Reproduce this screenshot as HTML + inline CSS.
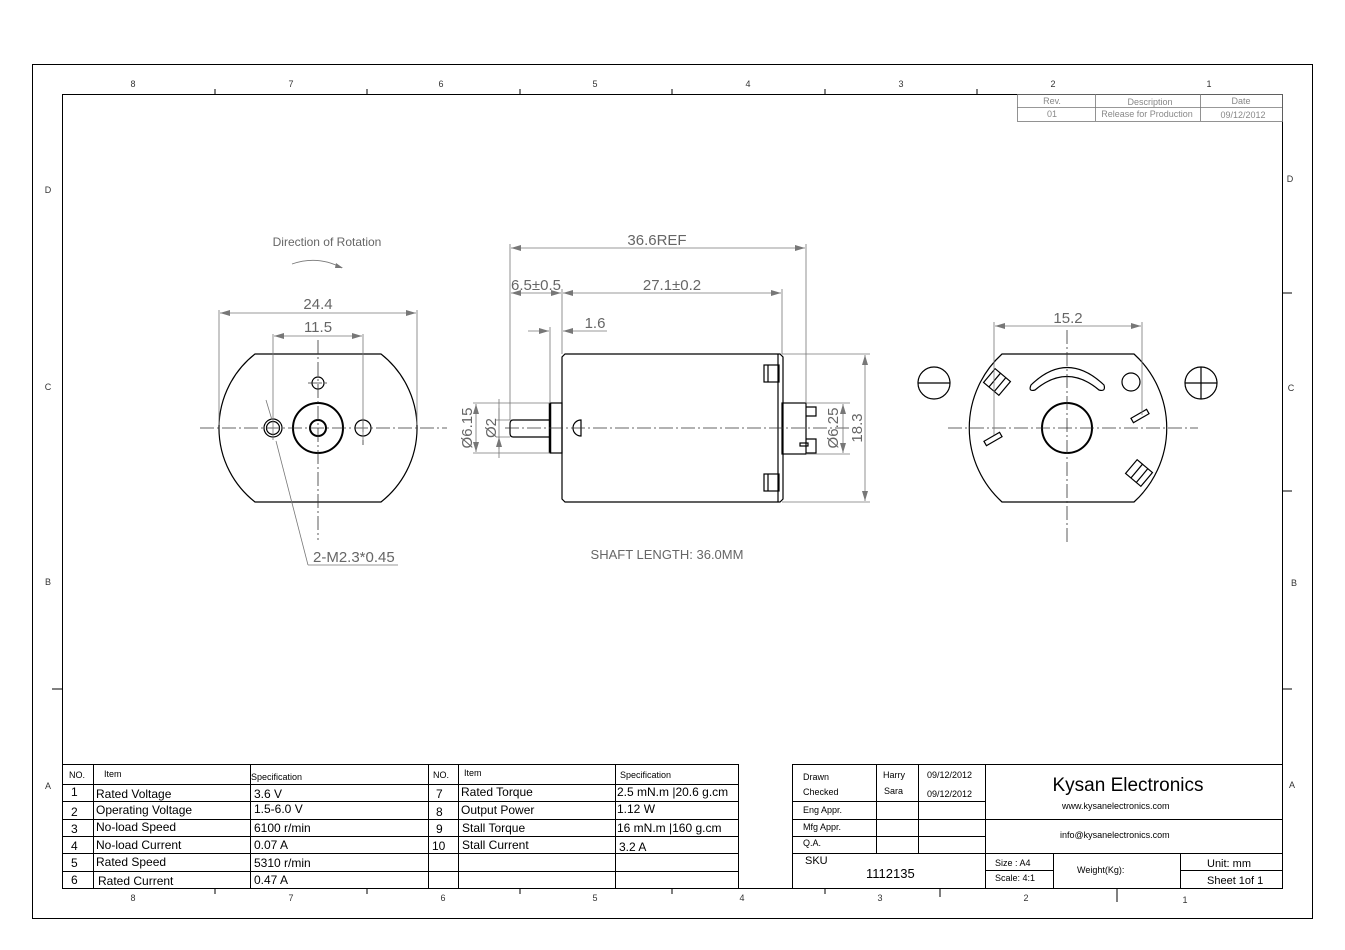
<!DOCTYPE html>
<html><head><meta charset="utf-8"><style>
html,body{margin:0;padding:0;background:#fff}
svg{display:block}
text{font-family:"Liberation Sans",sans-serif}
.o{stroke:#000;stroke-width:1.2;fill:none}
.d{stroke:#777;stroke-width:0.8;fill:none}
.c{stroke:#333;stroke-width:0.8;fill:none;stroke-dasharray:14,3,2,3}
.t{stroke:#000;stroke-width:1;fill:none}
.dt{fill:#666;font-size:15px}
.tb{font-size:12px;fill:#000}
.sm{font-size:9px;fill:#000}
.g{font-size:9px;fill:#888}
.z{font-size:9px;fill:#333}
</style></head><body>
<svg width="1345" height="950" viewBox="0 0 1345 950" xmlns="http://www.w3.org/2000/svg">
<defs>
<marker id="a" markerWidth="10" markerHeight="6" refX="10" refY="3" orient="auto-start-reverse" markerUnits="userSpaceOnUse"><path d="M0,0 L10,3 L0,6 z" fill="#777"/></marker>
</defs>
<rect x="32.5" y="64.5" width="1280" height="854" class="t"/>
<rect x="62.5" y="94.5" width="1220" height="794" class="t"/>
<g class="z" text-anchor="middle">
<text x="133" y="87">8</text><text x="291" y="87">7</text><text x="441" y="87">6</text><text x="595" y="87">5</text><text x="748" y="87">4</text><text x="901" y="87">3</text><text x="1053" y="87">2</text><text x="1209" y="87">1</text>
<text x="133" y="901">8</text><text x="291" y="901">7</text><text x="443" y="901">6</text><text x="595" y="901">5</text><text x="742" y="901">4</text><text x="880" y="901">3</text><text x="1026" y="901">2</text><text x="1185" y="903">1</text>
<text x="48" y="193">D</text><text x="48" y="390">C</text><text x="48" y="585">B</text><text x="48" y="789">A</text>
<text x="1290" y="182">D</text><text x="1291" y="391">C</text><text x="1294" y="586">B</text><text x="1292" y="788">A</text>
</g>
<g class="t">
<path d="M215 89V94M367 89V94M520 89V94M672 89V94M825 89V94M977 89V94"/>
<path d="M215 888V894M367 888V894M520 888V894M672 888V894M825 888V894M940 888V897M1117 888V902"/>
<path d="M52 689H62M1282 293H1292M1282 491H1292M1282 689H1292"/>
</g>
<g class="d" stroke="#999"><rect x="1017.5" y="94.5" width="265" height="27"/><path d="M1017 107.5H1282M1095.5 94V121M1200.5 94V121"/></g>
<g class="g" text-anchor="middle"><text x="1052" y="104">Rev.</text><text x="1150" y="105">Description</text><text x="1241" y="104">Date</text>
<text x="1052" y="117">01</text><text x="1147" y="117">Release for Production</text><text x="1243" y="118">09/12/2012</text></g>

<text x="327" y="246" fill="#666" font-size="12" text-anchor="middle">Direction of Rotation</text>
<path d="M292 264 Q318 255 342 268" class="d"/><path d="M336 263 L343 268 L335 268z" fill="#777"/>
<path d="M255 354H381 A94 94 0 0 1 381 502 H255 A94 94 0 0 1 255 354Z" class="o"/>
<circle cx="318" cy="428" r="25" stroke="#000" stroke-width="2" fill="none"/>
<circle cx="318" cy="428" r="8" stroke="#000" stroke-width="2" fill="none"/>
<circle cx="273" cy="428" r="9" class="o"/><circle cx="273" cy="428" r="6.5" class="o"/>
<circle cx="363" cy="428" r="8" class="o"/>
<circle cx="318" cy="383" r="6" class="o"/>
<path d="M200 428H447M318 340V540M308 383H328M363 418V445" class="c"/>
<path d="M219 310V425M417 310V425M273 334V440M363 334V440" class="d"/>
<path d="M220 313H416" class="d" marker-start="url(#a)" marker-end="url(#a)"/>
<path d="M274 336H362" class="d" marker-start="url(#a)" marker-end="url(#a)"/>
<text x="318" y="309" class="dt" text-anchor="middle">24.4</text>
<text x="318" y="332" class="dt" text-anchor="middle">11.5</text>
<path d="M308 565H398M308 565L276 441" class="d"/><path d="M266 400L272 420" class="d"/>
<text x="313" y="562" class="dt" text-anchor="start">2-M2.3*0.45</text>

<path d="M565 354H780L783 357V499L780 502H565L562 499V357Z" class="o"/>
<path d="M778 354V502" class="o"/>
<rect x="764" y="365" width="15" height="17" class="o"/><path d="M768 365V382" class="o"/>
<rect x="764" y="474" width="15" height="17" class="o"/><path d="M768 474V491" class="o"/>
<rect x="550" y="403" width="12" height="50" class="o"/><path d="M550 403V453" stroke="#000" stroke-width="2.5"/>
<path d="M550 420H513Q510 420 510 424V433Q510 437 513 437H550" class="o"/>
<rect x="782" y="403" width="24" height="51" class="o"/>
<path d="M806 407H816V416H806M806 439H816V453H806" class="o"/><rect x="800" y="443" width="8" height="3" class="o" stroke-width="0.8"/>
<path d="M581 420A8 8 0 0 0 581 436Z" class="o"/>
<path d="M505 428H850" class="c"/>
<path d="M510 244V420M806 244V403M562 289V354M782 289V354M550 327V403" class="d"/>
<path d="M511 248H805" class="d" marker-start="url(#a)" marker-end="url(#a)"/>
<path d="M511 293H561" class="d" marker-start="url(#a)" marker-end="url(#a)"/>
<path d="M563 293H781" class="d" marker-start="url(#a)" marker-end="url(#a)"/>
<path d="M528 331H549" class="d" marker-end="url(#a)"/><path d="M563 331H607" class="d" marker-start="url(#a)"/>
<text x="657" y="245" class="dt" text-anchor="middle">36.6REF</text>
<text x="536" y="290" class="dt" text-anchor="middle">6.5±0.5</text>
<text x="672" y="290" class="dt" text-anchor="middle">27.1±0.2</text>
<text x="595" y="328" class="dt" text-anchor="middle">1.6</text>
<path d="M473 403H550M473 453H550M496 420H510M496 437H510M499 399V458" class="d"/>
<path d="M476 404V452" class="d" marker-start="url(#a)" marker-end="url(#a)"/>
<path d="M499 408V420M499 449V437" class="d" marker-end="url(#a)"/>
<text transform="translate(472,428) rotate(-90)" class="dt" text-anchor="middle">Ø6.15</text>
<text transform="translate(496,428) rotate(-90)" class="dt" text-anchor="middle">Ø2</text>
<path d="M806 403H850M806 454H850M782 354H870M782 502H870" class="d"/>
<path d="M843 404V453" class="d" marker-start="url(#a)" marker-end="url(#a)"/>
<path d="M865 355V501" class="d" marker-start="url(#a)" marker-end="url(#a)"/>
<text transform="translate(838,428) rotate(-90)" class="dt" text-anchor="middle">Ø6.25</text>
<text transform="translate(862,428) rotate(-90)" class="dt" text-anchor="middle">18.3</text>
<text x="667" y="559" font-size="13" fill="#666" text-anchor="middle">SHAFT LENGTH: 36.0MM</text>

<path d="M1002 354H1134 A100 100 0 0 1 1134 502 H1002 A100 100 0 0 1 1002 354Z" class="o"/>
<circle cx="1067" cy="428" r="25" stroke="#000" stroke-width="2" fill="none"/>
<path d="M1031 385 Q1067 350 1104 385 Q1106 392 1099 390 Q1067 363 1035 390 Q1028 392 1031 385Z" class="o"/>
<circle cx="1131" cy="382" r="9" class="o"/>
<circle cx="934" cy="383" r="16" class="o"/><path d="M918 383H950" class="o"/>
<circle cx="1201" cy="383" r="16" class="o"/><path d="M1185 383H1217M1201 367V399" class="o"/>
<g class="o"><g transform="translate(997,382) rotate(40)"><rect x="-10" y="-9" width="20" height="18"/><path d="M-3 -9V9M4 -9V9"/></g>
<g transform="translate(1139,473) rotate(40)"><rect x="-10" y="-9" width="20" height="18"/><path d="M-3 -9V9M4 -9V9"/></g>
<g transform="translate(993,439) rotate(-30)"><rect x="-9" y="-2.5" width="18" height="5"/></g>
<g transform="translate(1140,416) rotate(-30)"><rect x="-9" y="-2.5" width="18" height="5"/></g></g>
<path d="M948 428H1198M1067 330V542" class="c"/>
<path d="M994 322V435M1142 322V415" class="d"/>
<path d="M995 326H1141" class="d" marker-start="url(#a)" marker-end="url(#a)"/>
<text x="1068" y="323" class="dt" text-anchor="middle">15.2</text>

<g class="t"><path d="M62 764.5H738M62 784.5H738M62 801.5H738M62 819.5H738M62 836.5H738M62 853.5H738M62 871.5H738M738.5 764V888M93.5 764V888M250.5 764V888M428.5 764V888M458.5 764V888M615.5 764V888"/></g>
<g class="sm" font-size="10"><text x="69" y="778">NO.</text><text x="104" y="777">Item</text><text x="251" y="780">Specification</text>
<text x="433" y="778">NO.</text><text x="464" y="776">Item</text><text x="620" y="778">Specification</text></g>
<g class="tb">
<text x="71" y="796">1</text><text x="96" y="798">Rated Voltage</text><text x="254" y="798">3.6 V</text>
<text x="71" y="816">2</text><text x="96" y="814">Operating Voltage</text><text x="254" y="813">1.5-6.0 V</text>
<text x="71" y="833">3</text><text x="96" y="831">No-load Speed</text><text x="254" y="832">6100 r/min</text>
<text x="71" y="850">4</text><text x="96" y="849">No-load Current</text><text x="254" y="849">0.07 A</text>
<text x="71" y="867">5</text><text x="96" y="866">Rated Speed</text><text x="254" y="867">5310 r/min</text>
<text x="71" y="884">6</text><text x="98" y="885">Rated Current</text><text x="254" y="884">0.47 A</text>
<text x="436" y="798">7</text><text x="461" y="796">Rated Torque</text><text x="617" y="796">2.5 mN.m |20.6 g.cm</text>
<text x="436" y="816">8</text><text x="461" y="814">Output Power</text><text x="617" y="813">1.12 W</text>
<text x="436" y="833">9</text><text x="462" y="832">Stall Torque</text><text x="617" y="832">16 mN.m |160 g.cm</text>
<text x="432" y="850">10</text><text x="462" y="849">Stall Current</text><text x="619" y="851">3.2 A</text>
</g>
<g class="t"><path d="M792.5 764V888M792 764.5H1282M792 801.5H985M792 819.5H1282M792 836.5H985M792 853.5H1282M876.5 764V853M918.5 764V853M985.5 764V888M1053.5 853V888M1180.5 853V888M985 870.5H1053M1180 870.5H1282"/></g>
<g class="sm"><text x="803" y="780">Drawn</text><text x="803" y="795">Checked</text><text x="803" y="813">Eng Appr.</text><text x="803" y="830">Mfg Appr.</text><text x="803" y="846">Q.A.</text>
<text x="883" y="778">Harry</text><text x="884" y="794">Sara</text><text x="927" y="778">09/12/2012</text><text x="927" y="797">09/12/2012</text>
<text x="1062" y="809">www.kysanelectronics.com</text><text x="1060" y="838">info@kysanelectronics.com</text>
<text x="995" y="866">Size : A4</text><text x="995" y="881">Scale: 4:1</text><text x="1077" y="873">Weight(Kg):</text></g>
<text x="1128" y="791" font-size="19" text-anchor="middle">Kysan Electronics</text>
<text x="805" y="864" font-size="11">SKU</text>
<text x="866" y="878" font-size="13">1112135</text>
<text x="1207" y="867" font-size="11">Unit: mm</text>
<text x="1207" y="884" font-size="11">Sheet 1of 1</text>
</svg>
</body></html>
